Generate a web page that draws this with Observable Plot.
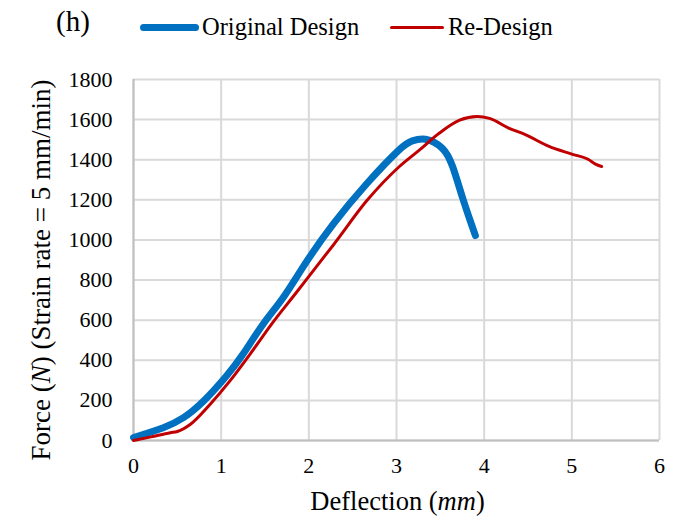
<!DOCTYPE html>
<html>
<head>
<meta charset="utf-8">
<script src="https://cdn.jsdelivr.net/npm/d3@7"></script>
<script src="https://cdn.jsdelivr.net/npm/@observablehq/plot@0.6"></script>
<style>
  html, body { margin: 0; padding: 0; background: #fff; }
  body { width: 684px; height: 524px; overflow: hidden; font-family: "Liberation Serif", "Times New Roman", serif; }
  #head { position: relative; height: 50px; width: 684px; }
  #head div { position: absolute; white-space: nowrap; line-height: 1; }
  .tag { left: 56px; top: 7px; font-size: 29px; }
  .lt { top: 14.5px; font-size: 24.5px; }
  .sw { border-radius: 4px; }
  svg text { font-family: "Liberation Serif", "Times New Roman", serif !important; }
</style>
</head>
<body>
<div id="head">
  <div class="tag">(h)</div>
  <div class="sw" style="left:140px;top:23.5px;width:59px;height:7px;background:#0070c0"></div>
  <div class="lt" style="left:202px">Original Design</div>
  <div class="sw" style="left:390px;top:25.5px;width:54px;height:3px;background:#c00000"></div>
  <div class="lt" style="left:448px">Re-Design</div>
</div>
<div id="chart"></div>
<script>
// Original Design (deflection mm, force N)
const origX = [0, 0.34, 0.57, 0.80, 1.06, 1.25, 1.48, 1.71, 1.97, 2.28, 2.66, 3.03, 3.18, 3.33, 3.52, 3.64, 3.75, 3.84, 3.90];
const origY = [15, 64, 114, 197, 322, 431, 581, 714, 889, 1080, 1280, 1449, 1494, 1502, 1458, 1366, 1215, 1097, 1022];
// Re-Design
const redX = [0, 0.20, 0.42, 0.50, 0.65, 0.875, 1.10, 1.33, 1.59, 1.86, 2.14, 2.28, 2.66, 3.03, 3.26, 3.49, 3.72, 3.92, 4.06, 4.28, 4.47, 4.74, 5.00, 5.19, 5.27, 5.34];
const redY = [0, 18, 39, 45, 81, 181, 297, 431, 589, 739, 897, 975, 1195, 1365, 1448, 1533, 1597, 1615, 1606, 1558, 1525, 1466, 1428, 1401, 1378, 1366];
const xTicks = [0, 1, 2, 3, 4, 5, 6];
const yTicks = [0, 200, 400, 600, 800, 1000, 1200, 1400, 1600, 1800];

const orig = origX.map((x, i) => ({x, y: origY[i]}));
const red = redX.map((x, i) => ({x, y: redY[i]}));

const FONT = "'Liberation Serif', 'Times New Roman', serif";
const W = 684, H = 474, mL = 133, mR = 25, mT = 29, mB = 84;
const plot = Plot.plot({
  width: W, height: H,
  marginLeft: mL, marginRight: mR, marginTop: mT, marginBottom: mB,
  style: {fontFamily: FONT, fontSize: "22px", color: "#000", background: "#fff"},
  x: {domain: [0, 6], label: null},
  y: {domain: [0, 1800], label: null},
  marks: [
    Plot.gridX(xTicks, {stroke: "#d9d9d9", strokeOpacity: 1, strokeWidth: 2}),
    Plot.gridY(yTicks, {stroke: "#d9d9d9", strokeOpacity: 1, strokeWidth: 2}),
    Plot.ruleX([0], {stroke: "#bfbfbf", strokeWidth: 2}),
    Plot.ruleY([0], {stroke: "#bfbfbf", strokeWidth: 2}),
    Plot.axisX({ticks: xTicks, tickSize: 0, tickPadding: 17, fontSize: 22, tickFormat: d => String(d), label: null}),
    Plot.axisY({ticks: yTicks, tickSize: 0, tickPadding: 21, fontSize: 22, tickFormat: d => String(d), label: null}),
    Plot.line(orig, {x: "x", y: "y", stroke: "#0070c0", strokeWidth: 7, curve: "natural", strokeLinecap: "round"}),
    Plot.line(red, {x: "x", y: "y", stroke: "#c00000", strokeWidth: 3, curve: "monotone-x", strokeLinecap: "round"})
  ]
});

const svg = d3.select(plot);
svg.style("font-family", FONT);
const xl = svg.append("text")
  .attr("x", 397.5).attr("y", 460)
  .attr("text-anchor", "middle").attr("font-size", 26.5).attr("fill", "#000");
xl.append("tspan").text("Deflection (");
xl.append("tspan").attr("font-style", "italic").text("mm");
xl.append("tspan").text(")");

const yl = svg.append("text")
  .attr("transform", `translate(50,220) rotate(-90)`)
  .attr("text-anchor", "middle").attr("font-size", 27).attr("fill", "#000");
yl.append("tspan").text("Force (");
yl.append("tspan").attr("font-style", "italic").text("N");
yl.append("tspan").text(") (Strain rate = 5 mm/min)");
svg.selectAll("text").attr("font-family", FONT);

document.getElementById("chart").appendChild(plot);
</script>
</body>
</html>
